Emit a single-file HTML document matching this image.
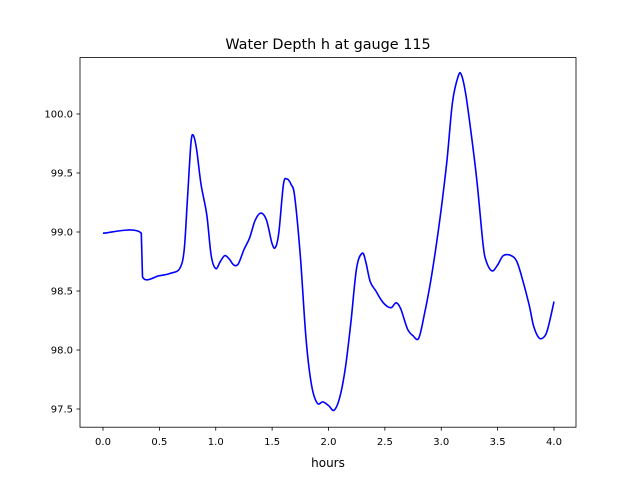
<!DOCTYPE html>
<html><head><meta charset="utf-8"><style>
body{margin:0;background:#fff;}
svg text{font-family:"DejaVu Sans","Liberation Sans",sans-serif;}
</style></head><body>
<svg id="chart" width="640" height="480" viewBox="0 0 640 480">
<rect width="640" height="480" fill="#fff"/>
<text x="328" y="49" font-size="14.4" text-anchor="middle">Water Depth h at gauge 115</text>
<g id="xt"></g>
<g id="yt"></g>
<path id="line" fill="none" stroke="#0000ff" stroke-width="1.6" stroke-linejoin="round"/>
<rect x="80" y="57.6" width="496" height="369.6" fill="none" stroke="#000" stroke-width="0.8"/>
<text x="328" y="467" font-size="12" text-anchor="middle">hours</text>
</svg>
<script>
const hours=[0,0.34,0.35,0.5,0.6,0.68,0.72,0.75,0.78,0.8,0.83,0.87,0.92,0.96,1.0,1.04,1.08,1.12,1.16,1.2,1.25,1.3,1.35,1.4,1.45,1.5,1.53,1.56,1.6,1.63,1.67,1.7,1.75,1.8,1.85,1.9,1.95,2.0,2.05,2.1,2.15,2.2,2.25,2.3,2.33,2.37,2.42,2.47,2.52,2.56,2.6,2.64,2.7,2.75,2.8,2.85,2.9,2.95,3.0,3.05,3.1,3.15,3.18,3.22,3.27,3.32,3.37,3.4,3.45,3.5,3.55,3.62,3.67,3.72,3.78,3.82,3.87,3.92,3.95,4.0];
const depth=[98.99,98.99,98.62,98.63,98.65,98.69,98.85,99.3,99.75,99.82,99.7,99.4,99.15,98.8,98.69,98.75,98.8,98.77,98.72,98.73,98.85,98.95,99.1,99.16,99.1,98.9,98.87,99.0,99.4,99.45,99.4,99.3,98.8,98.1,97.7,97.55,97.56,97.53,97.49,97.6,97.85,98.25,98.7,98.82,98.75,98.58,98.5,98.42,98.37,98.36,98.4,98.35,98.18,98.12,98.1,98.3,98.55,98.85,99.2,99.6,100.1,100.32,100.33,100.15,99.8,99.4,98.9,98.75,98.67,98.72,98.8,98.8,98.75,98.6,98.38,98.2,98.1,98.12,98.2,98.41];
const xTicks=[0,0.5,1.0,1.5,2.0,2.5,3.0,3.5,4.0];
const yTicks=[97.5,98.0,98.5,99.0,99.5,100.0];
const X=v=>103+v*112.75, Y=v=>114+(100-v)*118;
const NS="http://www.w3.org/2000/svg";
const xt=document.getElementById('xt'), yt=document.getElementById('yt');
xTicks.forEach(t=>{
 const l=document.createElementNS(NS,'line');
 
 
 l.setAttribute('x1',X(t));l.setAttribute('x2',X(t));l.setAttribute('y1',427.2);l.setAttribute('y2',430.7);l.setAttribute('stroke','#000');l.setAttribute('stroke-width','0.8');
 xt.appendChild(l);
 const s=document.createElementNS(NS,'text');
 
 
 s.setAttribute('x',X(t));s.setAttribute('y',445);s.setAttribute('font-size','10');s.setAttribute('text-anchor','middle');
 s.textContent=t.toFixed(1);xt.appendChild(s);
});
yTicks.forEach(t=>{
 const l=document.createElementNS(NS,'line');
 
 
 l.setAttribute('x1',76.5);l.setAttribute('x2',80);l.setAttribute('y1',Y(t));l.setAttribute('y2',Y(t));l.setAttribute('stroke','#000');l.setAttribute('stroke-width','0.8');
 yt.appendChild(l);
 const s=document.createElementNS(NS,'text');
 
 
 s.setAttribute('x',73);s.setAttribute('y',Y(t)+3.5);s.setAttribute('font-size','10');s.setAttribute('text-anchor','end');
 s.textContent=t.toFixed(1);yt.appendChild(s);
});
const P=hours.map((h,i)=>[X(h),Y(depth[i])]);
let d='M'+P[0][0].toFixed(1)+','+P[0][1].toFixed(1);
for(let i=0;i<P.length-1;i++){
 const p0=P[Math.max(0,i-1)],p1=P[i],p2=P[i+1],p3=P[Math.min(P.length-1,i+2)];
 if(i===1){d+='L'+p2[0].toFixed(1)+','+p2[1].toFixed(1);continue;}
 const c1=[p1[0]+(p2[0]-p0[0])/6,p1[1]+(p2[1]-p0[1])/6];
 const c2=[p2[0]-(p3[0]-p1[0])/6,p2[1]-(p3[1]-p1[1])/6];
 d+='C'+c1.map(v=>v.toFixed(1)).join(',')+' '+c2.map(v=>v.toFixed(1)).join(',')+' '+p2[0].toFixed(1)+','+p2[1].toFixed(1);
}
document.getElementById('line').setAttribute('d',d);
</script>
</body></html>
